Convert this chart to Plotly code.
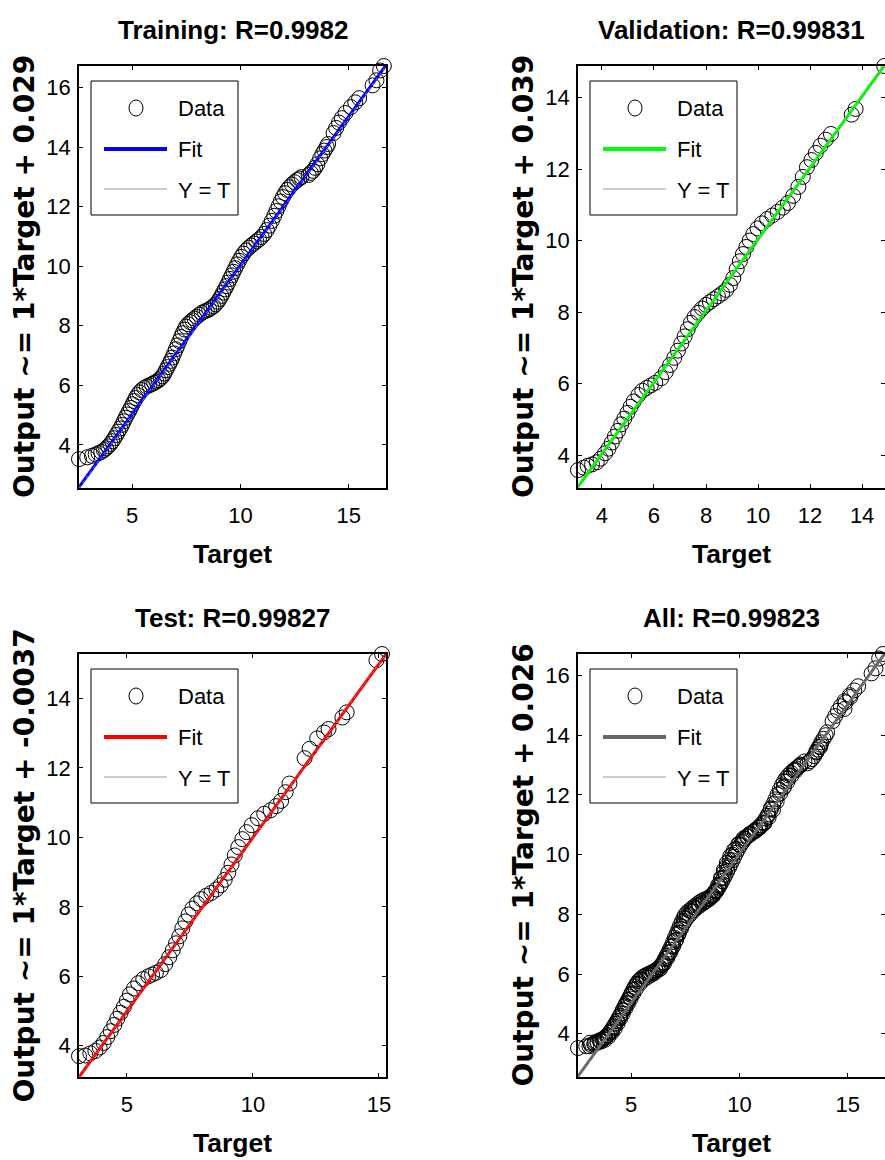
import plotly.graph_objects as go

# ---------------- data ----------------
train_target = [2.55, 2.93, 3.15, 3.32, 3.45, 3.58, 3.70, 3.80, 3.90, 4.00, 4.09, 4.18, 4.27, 4.36, 4.45,
                4.54, 4.62, 4.70, 4.78, 4.86, 4.94, 5.02, 5.10, 5.17, 5.25, 5.34, 5.44, 5.56, 5.68, 5.80,
                5.92, 6.02, 6.12, 6.22, 6.32, 6.40, 6.48, 6.56, 6.64, 6.72, 6.79, 6.86, 6.94, 7.02, 7.10,
                7.18, 7.26, 7.34, 7.42, 7.49, 7.58, 7.68, 7.78, 7.88, 7.98, 8.10, 8.22, 8.34, 8.45, 8.56,
                8.66, 8.76, 8.86, 8.95, 9.04, 9.12, 9.20, 9.28, 9.36, 9.44, 9.52, 9.60, 9.68, 9.76, 9.85,
                9.94, 10.04, 10.14, 10.26, 10.38, 10.50, 10.62, 10.74, 10.86, 10.98, 11.10, 11.22, 11.34,
                11.45, 11.56, 11.66, 11.76, 11.86, 11.96, 12.06, 12.16, 12.26, 12.38, 12.50, 12.62, 12.72,
                12.82, 13.15, 13.25, 13.35, 13.45, 13.55, 13.68, 13.78, 13.88, 13.98, 14.05, 14.30, 14.42,
                14.55, 14.68, 14.85, 15.10, 15.30, 15.48, 16.10, 16.28, 16.45, 16.62]
train_output = [3.52, 3.58, 3.63, 3.68, 3.72, 3.76, 3.82, 3.88, 3.95, 4.03, 4.12, 4.22, 4.33, 4.44, 4.55,
                4.67, 4.79, 4.91, 5.02, 5.13, 5.24, 5.36, 5.47, 5.57, 5.67, 5.76, 5.84, 5.91, 5.96, 6.00,
                6.04, 6.08, 6.12, 6.17, 6.23, 6.30, 6.39, 6.50, 6.61, 6.72, 6.82, 6.93, 7.07, 7.21, 7.34,
                7.48, 7.62, 7.75, 7.87, 7.97, 8.05, 8.12, 8.18, 8.24, 8.30, 8.37, 8.43, 8.48, 8.51, 8.55,
                8.60, 8.65, 8.72, 8.80, 8.90, 9.00, 9.11, 9.22, 9.33, 9.45, 9.57, 9.69, 9.81, 9.93, 10.06,
                10.18, 10.31, 10.42, 10.53, 10.62, 10.69, 10.76, 10.83, 10.90, 10.98, 11.08, 11.21, 11.36,
                11.52, 11.69, 11.85, 12.01, 12.17, 12.32, 12.45, 12.56, 12.65, 12.74, 12.82, 12.89, 12.94,
                12.99, 13.06, 13.13, 13.20, 13.30, 13.42, 13.62, 13.76, 13.88, 14.00, 14.10, 14.47, 14.64,
                14.82, 14.97, 15.14, 15.34, 15.50, 15.64, 16.07, 16.24, 16.57, 16.72]

val_target = [3.08, 3.30, 3.45, 3.62, 3.80, 3.95, 4.12, 4.25, 4.38, 4.50, 4.62, 4.74, 4.86, 4.98, 5.10,
              5.22, 5.40, 5.55, 5.72, 5.88, 6.05, 6.28, 6.45, 6.62, 6.78, 6.92, 7.05, 7.18, 7.30, 7.42,
              7.56, 7.70, 7.85, 8.00, 8.15, 8.30, 8.46, 8.62, 8.78, 8.92, 9.05, 9.18, 9.30, 9.42, 9.55,
              9.68, 9.82, 9.98, 10.15, 10.35, 10.55, 10.75, 10.95, 11.15, 11.35, 11.55, 11.72, 11.88,
              12.05, 12.22, 12.40, 12.60, 12.80, 13.60, 13.75, 14.85]
val_output = [3.58, 3.65, 3.70, 3.74, 3.80, 3.90, 4.05, 4.18, 4.35, 4.52, 4.68, 4.86, 5.02, 5.18, 5.35,
              5.50, 5.68, 5.80, 5.88, 5.95, 6.02, 6.15, 6.32, 6.52, 6.72, 6.92, 7.12, 7.32, 7.52, 7.70,
              7.86, 7.98, 8.10, 8.20, 8.28, 8.36, 8.44, 8.52, 8.62, 8.76, 8.95, 9.20, 9.42, 9.62, 9.82,
              10.00, 10.18, 10.34, 10.48, 10.60, 10.70, 10.80, 10.92, 11.05, 11.25, 11.50, 11.78, 12.05,
              12.25, 12.45, 12.65, 12.82, 12.98, 13.52, 13.68, 14.88]

test_target = [3.10, 3.35, 3.55, 3.75, 3.92, 4.08, 4.22, 4.36, 4.50, 4.62, 4.75, 4.88, 5.00, 5.12, 5.28,
               5.45, 5.65, 5.85, 6.00, 6.15, 6.35, 6.52, 6.68, 6.82, 6.95, 7.08, 7.20, 7.32, 7.45, 7.60,
               7.78, 7.95, 8.15, 8.35, 8.55, 8.72, 8.88, 9.02, 9.15, 9.28, 9.42, 9.58, 9.75, 9.95, 10.20,
               10.45, 10.70, 10.92, 11.12, 11.30, 11.45, 12.05, 12.25, 12.55, 12.82, 13.00, 13.55, 13.72,
               14.90, 15.12]
test_output = [3.70, 3.72, 3.78, 3.85, 3.95, 4.08, 4.25, 4.42, 4.60, 4.78, 4.95, 5.12, 5.30, 5.48, 5.65,
               5.80, 5.92, 6.00, 6.05, 6.10, 6.18, 6.35, 6.55, 6.75, 6.95, 7.15, 7.38, 7.58, 7.78, 7.95,
               8.10, 8.22, 8.32, 8.40, 8.50, 8.62, 8.78, 8.98, 9.22, 9.48, 9.72, 9.95, 10.15, 10.35, 10.55,
               10.68, 10.78, 10.90, 11.05, 11.30, 11.55, 12.28, 12.55, 12.85, 13.02, 13.12, 13.45, 13.60,
               15.10, 15.28]

all_target = train_target + val_target + test_target
all_output = train_output + val_output + test_output

titles = ["Training: R=0.9982", "Validation: R=0.99831", "Test: R=0.99827", "All: R=0.99823"]
fit_slope = [1, 1, 1, 1]
fit_intercept = [0.029, 0.039, -0.0037, 0.026]
y_labels = ["Output ~= 1*Target + 0.029", "Output ~= 1*Target + 0.039",
            "Output ~= 1*Target + -0.0037", "Output ~= 1*Target + 0.026"]
x_label = "Target"
fit_colors = ["#0000ff", "#00ff00", "#ff0000", "#666666"]
x_tick_vals = [[5, 10, 15], [4, 6, 8, 10, 12, 14], [5, 10, 15], [5, 10, 15]]
y_tick_vals = [[4, 6, 8, 10, 12, 14, 16], [4, 6, 8, 10, 12, 14], [4, 6, 8, 10, 12, 14], [4, 6, 8, 10, 12, 14, 16]]
legend_labels = ["Data", "Fit", "Y = T"]

datasets = [(train_target, train_output), (val_target, val_output),
            (test_target, test_output), (all_target, all_output)]

# ---------------- layout geometry (pixels) ----------------
W, H = 885, 1160
panels = [(79, 386, 66, 488), (578, 885, 66, 488), (79, 386, 654, 1077), (578, 885, 654, 1077)]

TXT = "Liberation Sans, Arial, sans-serif"
YT = "DejaVu Sans, Verdana, sans-serif"


def px(x):
    return x / W


def py(y):
    return 1 - y / H


fig = go.Figure()
shapes = []
annotations = []
layout = dict(width=W, height=H, margin=dict(l=0, r=0, t=0, b=0), plot_bgcolor="white",
              paper_bgcolor="white", showlegend=False, template="none")

for i, ((t, o), (l, r, tp, bt)) in enumerate(zip(datasets, panels)):
    n = "" if i == 0 else str(i + 1)
    xa, ya = "x" + n, "y" + n
    lo = min(min(t), min(o))
    hi = max(max(t), max(o))

    fig.add_trace(go.Scatter(x=t, y=o, mode="markers", xaxis=xa, yaxis=ya, cliponaxis=False,
                             marker=dict(symbol="circle-open", size=15, color="black", line=dict(width=1))))
    fig.add_trace(go.Scatter(x=[lo, hi], y=[fit_slope[i] * lo + fit_intercept[i], fit_slope[i] * hi + fit_intercept[i]],
                             mode="lines", xaxis=xa, yaxis=ya, cliponaxis=False,
                             line=dict(color=fit_colors[i], width=3)))
    fig.add_trace(go.Scatter(x=[lo, hi], y=[lo, hi], mode="lines", xaxis=xa, yaxis=ya,
                             line=dict(color="#808080", width=1, dash="dot")))

    axis_common = dict(showgrid=False, zeroline=False, showline=True, linecolor="black", linewidth=1.5,
                       mirror="ticks", ticks="inside", ticklen=4, tickwidth=1, tickcolor="black",
                       tickfont=dict(family=TXT, size=22, color="black"), range=[lo, hi], fixedrange=True)
    layout["xaxis" + n] = dict(axis_common, domain=[px(l), px(r)], anchor=ya, tickvals=x_tick_vals[i],
                               ticklabelstandoff=7)
    layout["yaxis" + n] = dict(axis_common, domain=[py(bt), py(tp)], anchor=xa, tickvals=y_tick_vals[i],
                               ticklabelstandoff=2)

    cx = (l + r) / 2
    cy = (tp + bt) / 2
    annotations.append(dict(text="<b>%s</b>" % titles[i], x=px(cx), y=py(tp - 36), xref="paper", yref="paper",
                            xanchor="center", yanchor="middle", showarrow=False,
                            font=dict(family=TXT, size=26, color="black")))
    annotations.append(dict(text="<b>%s</b>" % x_label, x=px(cx), y=py(bt + 66), xref="paper", yref="paper",
                            xanchor="center", yanchor="middle", showarrow=False,
                            font=dict(family=TXT, size=26.5, color="black")))
    annotations.append(dict(text="<b>%s</b>" % y_labels[i], x=px(l - 55), y=py(cy), xref="paper", yref="paper",
                            xanchor="center", yanchor="middle", textangle=-90, showarrow=False,
                            font=dict(family=YT, size=28, color="black")))

    # legend drawn inside the axes (MATLAB-style box)
    pw, ph = r - l, bt - tp
    xd = xa + " domain"
    yd = ya + " domain"

    def fx(d):
        return d / pw

    def fy(d):
        return 1 - d / ph

    shapes.append(dict(type="rect", xref=xd, yref=yd, x0=fx(12), x1=fx(159), y0=fy(149), y1=fy(15),
                       line=dict(color="black", width=1), fillcolor="white", layer="above"))
    shapes.append(dict(type="circle", xref=xd, yref=yd, x0=fx(50), x1=fx(64), y0=fy(50), y1=fy(34),
                       line=dict(color="black", width=1), layer="above"))
    shapes.append(dict(type="line", xref=xd, yref=yd, x0=fx(25), x1=fx(88), y0=fy(83), y1=fy(83),
                       line=dict(color=fit_colors[i], width=4), layer="above"))
    shapes.append(dict(type="line", xref=xd, yref=yd, x0=fx(25), x1=fx(88), y0=fy(123), y1=fy(123),
                       line=dict(color="#9a9a9a", width=1), layer="above"))
    for k, dy in enumerate([42, 83, 124]):
        annotations.append(dict(text=legend_labels[k], x=fx(97), y=fy(dy), xref=xd, yref=yd,
                                xanchor="left", yanchor="middle", showarrow=False,
                                font=dict(family=TXT, size=22, color="black")))

layout["shapes"] = shapes
layout["annotations"] = annotations
fig.update_layout(**layout)
fig.write_html("out.html", config={"displayModeBar": False},
               post_script="document.body.style.margin='0';document.body.style.overflow='hidden';")
